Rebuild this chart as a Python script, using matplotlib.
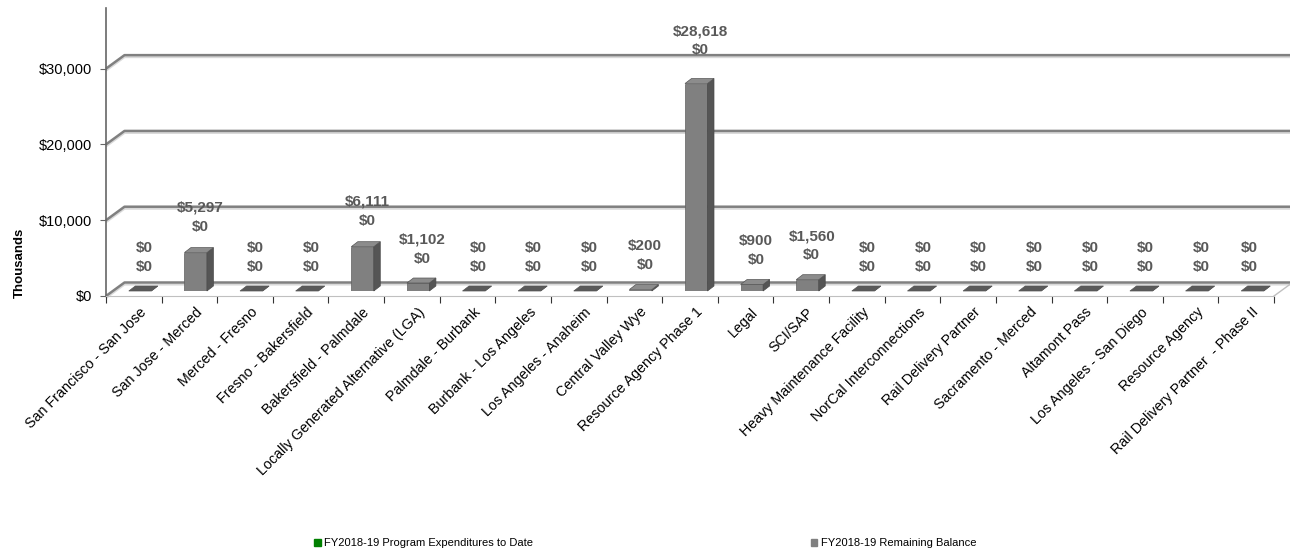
import matplotlib.pyplot as plt
from matplotlib.patches import Polygon, Patch

plt.rcParams['font.family'] = ['Liberation Sans', 'DejaVu Sans']

categories = [
    'San Francisco - San Jose', 'San Jose - Merced', 'Merced - Fresno',
    'Fresno - Bakersfield', 'Bakersfield - Palmdale',
    'Locally Generated Alternative (LGA)', 'Palmdale - Burbank',
    'Burbank - Los Angeles', 'Los Angeles - Anaheim', 'Central Valley Wye',
    'Resource Agency Phase 1', 'Legal', 'SCI/SAP',
    'Heavy Maintenance Facility', 'NorCal Interconnections',
    'Rail Delivery Partner', 'Sacramento - Merced', 'Altamont Pass',
    'Los Angeles - San Diego', 'Resource Agency',
    'Rail Delivery Partner  - Phase II',
]
expenditures = [0, 0, 0, 0, 0, 0, 0, 0, 0, 0, 0, 0, 0, 0, 0, 0, 0, 0, 0, 0, 0]
remaining = [0, 5297, 0, 0, 6111, 1102, 0, 0, 0, 200, 28618, 900, 1560,
             0, 0, 0, 0, 0, 0, 0, 0]
yticks = [0, 10000, 20000, 30000]
legend_labels = ['FY2018-19 Program Expenditures to Date',
                 'FY2018-19 Remaining Balance']

W, H = 1290, 553
YMAX = 38000
fig = plt.figure(figsize=(W / 100, H / 100), dpi=100)
n = len(categories)

# front plane: value axis, floor, ticks
ax = fig.add_axes([106 / W, (H - 296) / H, 1168 / W, 288 / H])
ax.set_xlim(0, n)
ax.set_ylim(0, YMAX)

# bar plane sits a bit deeper, so it's drawn slightly smaller and higher
axb = fig.add_axes([106 / W, (H - 291) / H, 1168 / W, YMAX * 0.00725 / H])
axb.set_xlim(0, n)
axb.set_ylim(0, YMAX)
axb.axis('off')
axb.patch.set_alpha(0)

px_x = n / 1168
px_y = YMAX / 288
pxb_y = YMAX / (YMAX * 0.00725)

# back wall gridlines with a light shadow under each
dxw, dyw = 18.5 * px_x, 13.5 * px_y
for v in yticks:
    xs = [0, dxw, n + dxw + 2]
    ys = [v, v + dyw, v + dyw]
    ax.plot(xs, [y - 2 * px_y for y in ys], color='#d9d9d9', lw=1.5,
            clip_on=False, zorder=1, solid_capstyle='butt')
    ax.plot(xs, ys, color='#808080', lw=1.8, clip_on=False, zorder=1,
            solid_capstyle='butt')
ax.plot([n, n + dxw], [0, dyw], color='#c0c0c0', lw=1, clip_on=False, zorder=1)

# bars: front face + side + top
bar_w = 22.5 * px_x
ddx, ddy = 6.5 * px_x, 5 * pxb_y
axb.bar([i + 0.05 for i in range(n)], expenditures, width=bar_w,
        align='edge', color='#008000', zorder=2)
for i, v in enumerate(remaining):
    x0 = i + 0.41
    x1 = x0 + bar_w
    axb.bar(x0, v, width=bar_w, align='edge', color='#808080',
            edgecolor='#606060', lw=0.5, zorder=3)
    side = [(x1, 0), (x1 + ddx, ddy), (x1 + ddx, v + ddy), (x1, v)]
    axb.add_patch(Polygon(side, closed=True, fc='#555555', ec='#4a4a4a',
                          lw=0.5, zorder=3, clip_on=False))
    top_col = '#8c8c8c' if v > 0 else '#5a5a5a'
    top = [(x0, v), (x1, v), (x1 + ddx, v + ddy), (x0 + ddx, v + ddy)]
    axb.add_patch(Polygon(top, closed=True, fc=top_col, ec='#555555',
                          lw=0.5, zorder=3, clip_on=False))

    # data labels: remaining on top, expenditures below
    lx = min(i + 0.69, n - 0.45)
    low = v + 29 * px_y
    ax.text(lx, low, '${:,.0f}'.format(expenditures[i]), ha='center',
            va='center', fontsize=11, fontweight='bold', color='#595959',
            zorder=5)
    ax.text(lx, low + 19 * px_y, '${:,.0f}'.format(v), ha='center',
            va='center', fontsize=11, fontweight='bold', color='#595959',
            zorder=5)

# axes styling
for s in ['top', 'right']:
    ax.spines[s].set_visible(False)
ax.spines['left'].set_color('#666666')
ax.spines['left'].set_linewidth(1.2)
ax.spines['bottom'].set_color('#c0c0c0')
ax.set_yticks(yticks)
ax.set_yticklabels(['${:,.0f}'.format(t) for t in yticks], fontsize=10.5)
ax.set_xticks(range(n + 1))
ax.set_xticklabels([])
ax.tick_params(axis='x', length=5, color='#333333')
ax.tick_params(axis='y', length=4, color='#666666', pad=6)

for i, name in enumerate(categories):
    ax.text(i + 0.60, -9 * px_y, name, rotation=45, ha='right', va='top',
            rotation_mode='anchor', fontsize=10.3)

fig.text(20 / W, 1 - 263 / H, 'Thousands', rotation=90, fontweight='bold',
         fontsize=9.5, ha='center', va='center')

handles = [Patch(color='#008000'), Patch(color='#808080')]
fig.legend(handles, legend_labels, loc='center',
           bbox_to_anchor=(0.5, (H - 543) / H), ncol=2, frameon=False,
           fontsize=8, handlelength=0.6, handleheight=0.6,
           handletextpad=0.3, columnspacing=25)

fig.savefig('out.png', dpi=100)
